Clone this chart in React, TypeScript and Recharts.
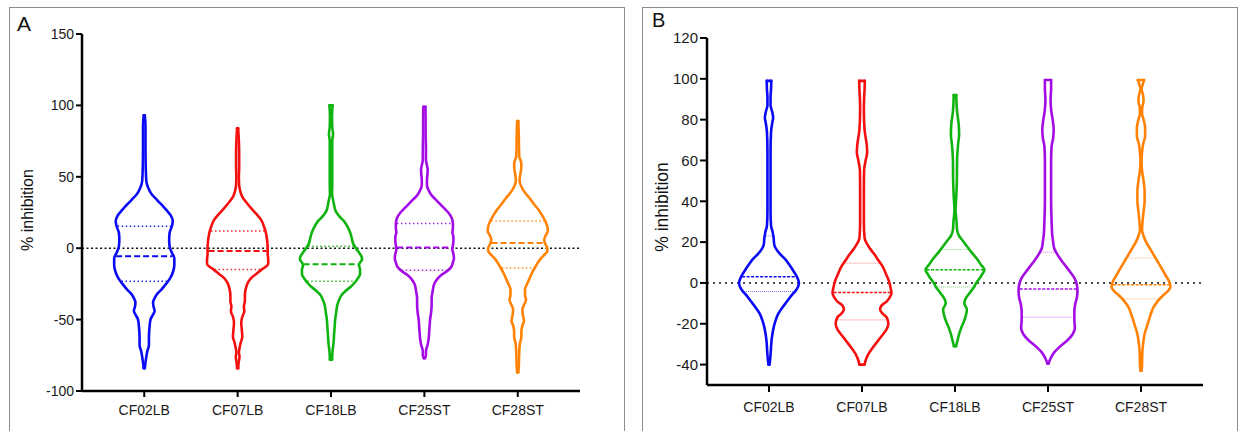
import { ReferenceLine, Scatter, ScatterChart, XAxis, YAxis } from "recharts";

const strains = ["CF02LB", "CF07LB", "CF18LB", "CF25ST", "CF28ST"];
const colors = ["#0a0af5", "#f51010", "#10b410", "#a40ce6", "#ff8205"];

const ticksA = [-100, -50, 0, 50, 100, 150];
const ticksB = [-40, -20, 0, 20, 40, 60, 80, 100, 120];

// violin outlines, top to bottom: [value, density half width]
const cf02A = [
  [93, 0.5], [85, 1.2], [70, 1.2], [55, 1.5], [47, 2], [42, 4], [38, 7], [34, 12], [31, 16],
  [27, 21], [23, 25.5], [19, 27.5], [15, 26.5], [11, 24.5], [6, 24], [1, 24.5], [-3, 26.5],
  [-7, 29], [-12, 29], [-17, 27.5], [-21, 25], [-25, 21], [-29, 16.5], [-32, 12.5], [-35, 10],
  [-38, 8.5], [-41, 9], [-44, 10], [-47, 8], [-50, 6], [-56, 5], [-63, 4.5], [-68, 4.5],
  [-72, 3], [-76, 2], [-80, 1.2], [-84, 0.5],
];
const cf07A = [
  [84, 0.5], [75, 1.2], [65, 1.5], [57, 1.5], [50, 1.2], [44, 1.5], [40, 2.5], [36, 4.5],
  [32, 8.5], [28, 13], [24, 18], [20, 22.5], [15, 25.5], [10, 27.5], [5, 28.5], [0, 29],
  [-4, 29], [-8, 29.5], [-11, 29.5], [-13, 27], [-15, 23], [-18, 18], [-21, 13], [-24, 10],
  [-28, 8], [-33, 7], [-37, 7], [-41, 6], [-44, 6.5], [-48, 4.5], [-52, 3.5], [-57, 4],
  [-62, 4.5], [-66, 3], [-70, 1.8], [-73, 1.2], [-76, 1.8], [-80, 1], [-84, 0.5],
];
const cf18A = [
  [100, 1.5], [92, 1], [85, 1.2], [80, 2], [75, 1.2], [65, 1.2], [55, 1.2], [45, 1.2], [38, 1],
  [34, 2], [30, 3], [26, 4.5], [22, 8.5], [19, 12.5], [15, 16], [11, 18.5], [7, 20], [3, 21.5],
  [0, 24], [-3, 27], [-6, 29.5], [-8, 30], [-10, 28], [-12, 27], [-15, 28], [-18, 28],
  [-21, 26], [-24, 23], [-27, 19], [-30, 14], [-33, 10], [-36, 8], [-40, 6], [-45, 5],
  [-50, 4], [-55, 3.5], [-60, 3], [-66, 2.5], [-72, 1.5], [-78, 1],
];
const cf25A = [
  [99, 1], [90, 1.2], [80, 1.2], [70, 1.5], [62, 1.5], [58, 2.5], [55, 3.2], [52, 3], [48, 2.5],
  [44, 2.5], [40, 4.5], [37, 7], [34, 11], [31, 15], [28, 19], [25, 23], [21, 26.5], [17, 27.5],
  [14, 27.5], [11, 27], [8, 28], [5, 28], [2, 27.5], [-1, 27], [-4, 28], [-7, 28.5], [-10, 27.5],
  [-13, 26], [-16, 22], [-19, 16], [-22, 12], [-25, 9.5], [-30, 8], [-35, 7], [-40, 7],
  [-45, 6.5], [-50, 5.5], [-55, 5], [-60, 4.5], [-64, 4], [-68, 3], [-72, 1.5], [-75, 1.5],
  [-77, 0.5],
];
const cf28A = [
  [89, 0.5], [80, 1], [70, 1.2], [64, 1.5], [61, 3], [58, 3.5], [54, 3], [50, 2], [47, 1.8],
  [44, 3], [41, 5], [38, 8], [35, 11.5], [31, 15.5], [27, 20], [23, 23.5], [19, 26.5],
  [15, 28.5], [12, 29], [9, 27], [6, 25.5], [3, 26.5], [0, 28.5], [-2, 28.5], [-4, 26.5],
  [-7, 22.5], [-10, 19.5], [-13, 17], [-17, 14], [-21, 11.5], [-25, 9], [-29, 7], [-33, 7],
  [-36, 8], [-39, 6.5], [-43, 4.5], [-47, 5], [-51, 6], [-54, 4.5], [-58, 3.5], [-62, 3.5],
  [-67, 2], [-72, 1.5], [-78, 1.2], [-83, 1], [-87, 0.5],
];

const cf02B = [
  [99, 2.2], [95, 2], [91, 1.5], [87, 1.5], [84, 3], [81, 4], [78, 3], [74, 2], [65, 1.5],
  [50, 1.5], [35, 1.5], [28, 2], [25, 3.5], [22, 4.5], [19, 5], [17, 6.5], [14, 11], [12, 15],
  [9, 19.5], [6, 23.5], [3, 27], [0, 29], [-2, 28], [-4, 25.5], [-6, 22], [-9, 17.5],
  [-12, 13], [-15, 9], [-19, 6], [-23, 4], [-28, 2.5], [-33, 1.8], [-37, 1.2], [-40, 0.5],
];
const cf07B = [
  [99, 2.7], [95, 2.5], [90, 2], [85, 1.8], [75, 2.5], [68, 4.5], [64, 5], [60, 3.5], [55, 2],
  [45, 1.8], [30, 1.8], [22, 2.5], [19, 5], [17, 7.5], [14, 12], [11, 16], [8, 20], [4, 23.5],
  [1, 26], [-2, 27.5], [-5, 28.5], [-7, 27], [-9, 24], [-11, 19], [-13, 17.5], [-15, 20],
  [-17, 24], [-20, 25.5], [-23, 23.5], [-26, 19], [-29, 14.5], [-32, 10], [-35, 6],
  [-38, 3.5], [-40, 2.5],
];
const cf18B = [
  [92, 1.2], [88, 1.5], [84, 2], [78, 3.5], [73, 4], [68, 3], [60, 2], [50, 1.8], [42, 1.2],
  [36, 0.5], [30, 1.5], [26, 2], [23, 4], [21, 7], [18, 11.5], [15, 16], [12, 21], [9, 25],
  [6.5, 28.5], [4, 26], [2, 23.5], [0, 20.5], [-2, 18.5], [-5, 14], [-8, 10], [-10, 9],
  [-13, 11.5], [-16, 10.5], [-19, 8.5], [-22, 6], [-25, 4], [-28, 2.5], [-31, 1],
];
const cf25B = [
  [99.4, 3], [95, 3], [90, 2.5], [85, 3], [80, 4.5], [75, 5.5], [71, 5], [67, 3.5], [60, 3],
  [50, 3], [40, 3], [30, 3.5], [24, 4], [20, 5], [17, 6], [14, 9], [11, 13], [8, 17.5],
  [5, 22], [2, 26], [-1, 28], [-4, 28.5], [-7, 28], [-10, 26.5], [-14, 25.5], [-18, 25.5],
  [-22, 26], [-25, 24], [-28, 19], [-31, 12], [-34, 6], [-37, 2.5], [-39.5, 0.5],
];
const cf28B = [
  [99.4, 3], [97, 1.5], [95, 0.5], [92, 2], [89, 2.5], [86, 1.2], [83, 1], [80, 2.5], [76, 4],
  [72, 4], [68, 2], [64, 1], [60, 0.5], [55, 1], [50, 2.5], [45, 3.5], [40, 3.5], [35, 2.5],
  [30, 1.5], [26, 1], [23, 2.5], [20, 5], [17, 8.5], [14, 12], [11, 15.5], [8, 19], [4, 23.5],
  [1, 27], [-2, 28.5], [-4, 26], [-6, 21.5], [-9, 16], [-12, 12], [-16, 9], [-20, 6.5],
  [-25, 3.5], [-30, 2], [-35, 1.2], [-40, 1], [-43, 0.5],
];

// [upper quartile, median, lower quartile]
const quartilesA = [
  [15.4, -5.6, -23.1],
  [12.1, -1.9, -14.9],
  [1.4, -11.2, -23.1],
  [17.3, 0.5, -15.4],
  [19.1, 3.7, -13.8],
];
const quartilesB = [
  [23, 3, -4.2],
  [9.7, -4.7, -18.1],
  [16.4, 6.5, -2],
  [15.1, -3, -16.8],
  [12.2, -0.9, -7.8],
];

const violinsA = [cf02A, cf07A, cf18A, cf25A, cf28A];
const violinsB = [cf02B, cf07B, cf18B, cf25B, cf28B];

const WIDTH_SCALE = 1 / 90; // density units -> category units
const FONT = "'Liberation Sans', Arial, sans-serif";

const noDot = () => <g />;

function widthAt(p: number[][], v: number) {
  for (let k = 0; k < p.length - 1; k++) {
    const [y0, w0] = p[k];
    const [y1, w1] = p[k + 1];
    if (v <= y0 && v >= y1) return w0 + ((w1 - w0) * (y0 - v)) / (y0 - y1);
  }
  return 0;
}

type LineStyle = { width: number; median: string; quart: string; quartOpacity: number };

function violinSeries(profiles: number[][][], quartiles: number[][], st: LineStyle) {
  const out: any[] = [];
  profiles.forEach((p, i) => {
    const c = i + 1;
    const col = colors[i];
    const outline = { stroke: col, strokeWidth: 2.6, strokeLinecap: "round" as const };
    const right = p.map(([y, w]) => ({ x: c + w * WIDTH_SCALE, y }));
    const left = p.map(([y, w]) => ({ x: c - w * WIDTH_SCALE, y }));
    const [yt, wt] = p[0];
    const [yb, wb] = p[p.length - 1];
    const caps = [
      [{ x: c - wt * WIDTH_SCALE, y: yt }, { x: c + wt * WIDTH_SCALE, y: yt }],
      [{ x: c - wb * WIDTH_SCALE, y: yb }, { x: c + wb * WIDTH_SCALE, y: yb }],
    ];
    [right, left].forEach((d, s) =>
      out.push(
        <Scatter
          key={`side${i}-${s}`}
          data={d}
          line={outline}
          lineJointType="monotoneY"
          shape={noDot}
          isAnimationActive={false}
        />
      )
    );
    caps.forEach((d, s) =>
      out.push(
        <Scatter key={`cap${i}-${s}`} data={d} line={outline} shape={noDot} isAnimationActive={false} />
      )
    );
    quartiles[i].forEach((q, k) => {
      const w = Math.max(widthAt(p, q) - 1, 0) * WIDTH_SCALE;
      const isMedian = k === 1;
      out.push(
        <Scatter
          key={`q${i}-${k}`}
          data={[{ x: c - w, y: q }, { x: c + w, y: q }]}
          line={{
            stroke: col,
            strokeWidth: isMedian ? st.width + 0.5 : st.width,
            strokeDasharray: isMedian ? st.median : st.quart,
            strokeOpacity: isMedian ? 1 : st.quartOpacity,
          }}
          shape={noDot}
          isAnimationActive={false}
        />
      );
    });
  });
  return out;
}

const axisLine = { stroke: "#000", strokeWidth: 2.5 };
const tickLine = { stroke: "#000", strokeWidth: 2 };

function Panel({
  left,
  width,
  height,
  margin,
  domain,
  ticks,
  tickSize,
  xTickMargin,
  yFont,
  violins,
  quartiles,
  st,
  zeroDash,
}: any) {
  return (
    <div style={{ position: "absolute", left, top: 0 }}>
      <ScatterChart width={width} height={height} margin={margin}>
        <XAxis
          type="number"
          dataKey="x"
          domain={[1 / 3, 17 / 3]}
          ticks={[1, 2, 3, 4, 5]}
          tickFormatter={(v: number) => strains[v - 1]}
          axisLine={axisLine}
          tickLine={tickLine}
          tickSize={tickSize}
          tickMargin={xTickMargin}
          height={30}
          tick={{ fill: "#1a1a1a", fontSize: 14, fontFamily: FONT }}
          allowDataOverflow
        />
        <YAxis
          type="number"
          dataKey="y"
          domain={domain}
          ticks={ticks}
          axisLine={axisLine}
          tickLine={tickLine}
          tickSize={tickSize}
          width={60}
          tick={{ fill: "#1a1a1a", fontSize: yFont, fontFamily: FONT }}
          allowDataOverflow
        />
        <ReferenceLine y={0} stroke="#111" strokeWidth={1.6} strokeDasharray={zeroDash} />
        {violinSeries(violins, quartiles, st)}
      </ScatterChart>
    </div>
  );
}

export default function App() {
  const text = { position: "absolute" as const, fontFamily: FONT, color: "#111", whiteSpace: "nowrap" as const };
  return (
    <div
      style={{
        position: "absolute",
        left: 0,
        top: 0,
        width: 1238,
        height: 431,
        overflow: "hidden",
        background: "#fff",
      }}
    >
      <div style={{ position: "absolute", left: 9, top: 7, width: 614, height: 440, border: "1px solid #8c8c8c" }} />
      <div style={{ position: "absolute", left: 642, top: 7, width: 594, height: 440, border: "1px solid #8c8c8c" }} />
      <Panel
        left={0}
        width={620}
        height={431}
        margin={{ top: 34, right: 40, bottom: 10, left: 22 }}
        domain={[-100, 150]}
        ticks={ticksA}
        tickSize={6}
        xTickMargin={8}
        yFont={14}
        violins={violinsA}
        quartiles={quartilesA}
        st={{ width: 1.5, median: "6 3", quart: "1.5 2.5", quartOpacity: 0.9 }}
        zeroDash="2 2.5"
      />
      <Panel
        left={640}
        width={598}
        height={431}
        margin={{ top: 38, right: 35, bottom: 16, left: 7 }}
        domain={[-50, 120]}
        ticks={ticksB}
        tickSize={7}
        xTickMargin={10}
        yFont={15}
        violins={violinsB}
        quartiles={quartilesB}
        st={{ width: 1, median: "3 1.5", quart: "1 1", quartOpacity: 0.55 }}
        zeroDash="2 4"
      />
      <div style={{ ...text, left: 17, top: 12, fontSize: 21 }}>A</div>
      <div style={{ ...text, left: 652, top: 9, fontSize: 20 }}>B</div>
      <div
        style={{
          ...text,
          left: 28,
          top: 210,
          fontSize: 16,
          transform: "translate(-50%, -50%) rotate(-90deg)",
        }}
      >
        % inhibition
      </div>
      <div
        style={{
          ...text,
          left: 662,
          top: 207,
          fontSize: 17.5,
          transform: "translate(-50%, -50%) rotate(-90deg)",
        }}
      >
        % inhibition
      </div>
    </div>
  );
}
